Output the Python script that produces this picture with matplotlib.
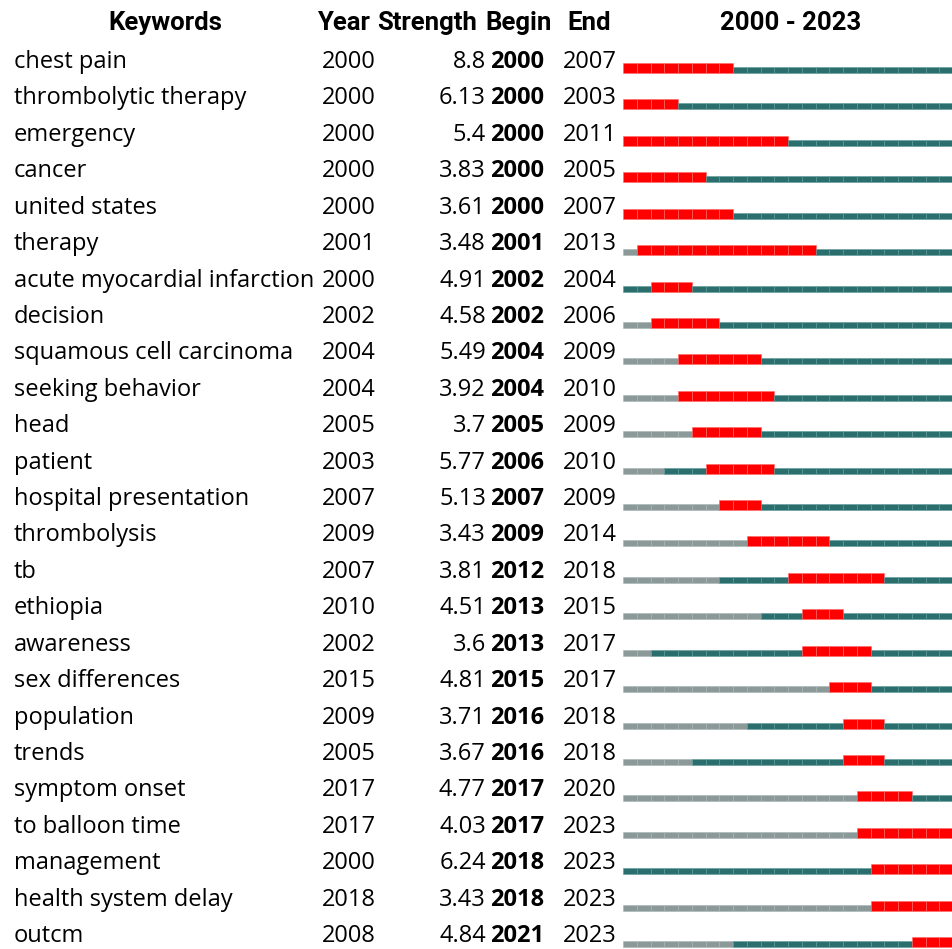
import matplotlib.pyplot as plt
import numpy as np

# burst table
keywords = ["chest pain", "thrombolytic therapy", "emergency", "cancer", "united states",
            "therapy", "acute myocardial infarction", "decision", "squamous cell carcinoma",
            "seeking behavior", "head", "patient", "hospital presentation", "thrombolysis",
            "tb", "ethiopia", "awareness", "sex differences", "population", "trends",
            "symptom onset", "to balloon time", "management", "health system delay", "outcm"]
year = [2000, 2000, 2000, 2000, 2000, 2001, 2000, 2002, 2004, 2004, 2005, 2003, 2007,
        2009, 2007, 2010, 2002, 2015, 2009, 2005, 2017, 2017, 2000, 2018, 2008]
strength = ["8.8", "6.13", "5.4", "3.83", "3.61", "3.48", "4.91", "4.58", "5.49", "3.92",
            "3.7", "5.77", "5.13", "3.43", "3.81", "4.51", "3.6", "4.81", "3.71", "3.67",
            "4.77", "4.03", "6.24", "3.43", "4.84"]
begin = [2000, 2000, 2000, 2000, 2000, 2001, 2002, 2002, 2004, 2004, 2005, 2006, 2007,
         2009, 2012, 2013, 2013, 2015, 2016, 2016, 2017, 2017, 2018, 2018, 2021]
end = [2007, 2003, 2011, 2005, 2007, 2013, 2004, 2006, 2009, 2010, 2009, 2010, 2009,
       2014, 2018, 2015, 2017, 2017, 2018, 2018, 2020, 2023, 2023, 2023, 2023]
first_year, last_year = 2000, 2023

RED = "#ff0000"
TEAL = "#2a6f6e"
GRAY = "#8b9999"

plt.rcParams['font.family'] = ['Open Sans', 'DejaVu Sans']

W, H = 953, 949
fig = plt.figure(figsize=(W / 100, H / 100), dpi=100)
ax = fig.add_axes([0, 0, 1, 1])
ax.set_xlim(0, W)
ax.set_ylim(H, 0)
ax.axis("off")

row0, step = 68, 36.42
rows = row0 + step * np.arange(len(keywords))
fs = 17

# header
hdr = dict(fontsize=18.5, fontweight="bold", va="baseline", ha="center",
           family=['Roboto', 'DejaVu Sans'])
hy = 30
ax.text(165, hy, "Keywords", **hdr)
ax.text(343, hy, "Year", **hdr)
ax.text(427, hy, "Strength", **hdr)
ax.text(519, hy, "Begin", **hdr)
ax.text(589, hy, "End", **hdr)
ax.text(791, hy, f"{first_year} - {last_year}", **hdr)

for y, kw, yr, st, b, e in zip(rows, keywords, year, strength, begin, end):
    ax.text(14, y, kw, fontsize=fs, va="baseline", ha="left")
    ax.text(322, y, str(yr), fontsize=fs, va="baseline", ha="left")
    ax.text(486, y, st, fontsize=fs, va="baseline", ha="right")
    ax.text(490, y, str(b), fontsize=fs, va="baseline", ha="left", fontweight="bold")
    ax.text(563, y, str(e), fontsize=fs, va="baseline", ha="left")

# timeline bars
bx = fig.add_axes([623 / W, 0, (W - 623) / W, 1])
bx.set_xlim(first_year, last_year + 1)
bx.set_ylim(H, 0)
bx.axis("off")

years = np.arange(first_year, last_year + 1)
for y, yr, b, e in zip(rows, year, begin, end):
    base = y + 5
    for t in years:
        if b <= t <= e:
            bx.bar(t, 10, width=1, bottom=base - 10, align="edge", color=RED,
                   edgecolor="#ff6a6a", linewidth=0.4)
        else:
            c = GRAY if t < yr else TEAL
            bx.bar(t, 6, width=1, bottom=base - 6, align="edge", color=c,
                   edgecolor="#5f9a9a" if c == TEAL else "#a9b5b5", linewidth=0.4)

fig.savefig("out.png", dpi=100)
